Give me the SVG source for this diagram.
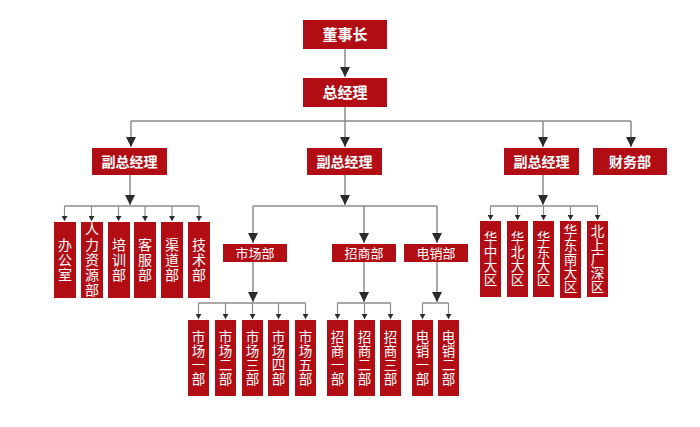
<svg xmlns="http://www.w3.org/2000/svg" width="700" height="427" viewBox="0 0 700 427">
<defs>
<style>
.box{fill:#b20d15;}
.t{fill:#fff;font-family:"Noto Sans CJK SC","Noto Sans",sans-serif;text-anchor:middle;}
.h{font-size:15px;font-weight:bold;}
.m{font-size:14px;font-weight:bold;}
.s{font-size:13px;}
.v{font-size:14px;writing-mode:vertical-rl;letter-spacing:1.2px;}
.w{font-size:13.5px;writing-mode:vertical-rl;letter-spacing:0.5px;}
.ln{fill:none;stroke:#8c8c8c;stroke-width:1.5;}
.ab{fill:none;stroke:#8c8c8c;stroke-width:1.5;marker-end:url(#big);}
.as{fill:none;stroke:#8c8c8c;stroke-width:1.2;marker-end:url(#small);}
</style>
<marker id="big" markerUnits="userSpaceOnUse" markerWidth="11" markerHeight="10" refX="10" refY="5" orient="auto"><path d="M0,0 L10,5 L0,10 z" fill="#2b2b2b"/></marker>
<marker id="small" markerUnits="userSpaceOnUse" markerWidth="6" markerHeight="6" refX="5" refY="3" orient="auto"><path d="M0,0 L5,3 L0,6 z" fill="#2b2b2b"/></marker>
</defs>
<rect width="700" height="427" fill="#fff"/>

<g id="connectors">
<path class="ab" d="M345,49 V77"/>
<path class="ln" d="M345,107 V121 M131,121 H631"/>
<path class="ab" d="M131,121 V147"/>
<path class="ab" d="M345,121 V147"/>
<path class="ab" d="M543,121 V147"/>
<path class="ab" d="M631,121 V147"/>
<path class="ab" d="M130,175 V205"/>
<path class="ln" d="M64.5,206 H199"/>
<path class="as" d="M64.5,206 V221"/>
<path class="as" d="M91.5,206 V221"/>
<path class="as" d="M118.5,206 V221"/>
<path class="as" d="M145,206 V221"/>
<path class="as" d="M172,206 V221"/>
<path class="as" d="M199,206 V221"/>
<path class="ab" d="M345,175 V205"/>
<path class="ln" d="M253,206 H437"/>
<path class="ab" d="M253,206 V243"/>
<path class="ab" d="M364,206 V243"/>
<path class="ab" d="M437,206 V243"/>
<path class="ab" d="M253,262 V302"/>
<path class="ln" d="M198.5,303 H305.5"/>
<path class="as" d="M198.5,303 V319"/>
<path class="as" d="M225.5,303 V319"/>
<path class="as" d="M252.5,303 V319"/>
<path class="as" d="M278.5,303 V319"/>
<path class="as" d="M305.5,303 V319"/>
<path class="ab" d="M364,262 V302"/>
<path class="ln" d="M337.5,303 H390.5"/>
<path class="as" d="M337.5,303 V319"/>
<path class="as" d="M364.5,303 V319"/>
<path class="as" d="M390.5,303 V319"/>
<path class="ab" d="M437,262 V302"/>
<path class="ln" d="M422.5,303 H448.5"/>
<path class="as" d="M422.5,303 V319"/>
<path class="as" d="M448.5,303 V319"/>
<path class="ab" d="M543,175 V205"/>
<path class="ln" d="M490.5,206 H597.5"/>
<path class="as" d="M490.5,206 V220"/>
<path class="as" d="M517.5,206 V220"/>
<path class="as" d="M543.5,206 V220"/>
<path class="as" d="M570.5,206 V220"/>
<path class="as" d="M597.5,206 V220"/>
</g>

<g id="n-dsz"><rect class="box" x="303" y="20" width="84" height="29"/><text class="t h" x="345" y="40">董事长</text></g>
<g id="n-zjl"><rect class="box" x="303" y="78" width="84" height="29"/><text class="t h" x="345" y="98">总经理</text></g>
<g id="n-vp1"><rect class="box" x="92" y="148" width="75" height="27"/><text class="t m" x="129.5" y="166.5">副总经理</text></g>
<g id="n-vp2"><rect class="box" x="307" y="148" width="75" height="27"/><text class="t m" x="344.5" y="166.5">副总经理</text></g>
<g id="n-vp3"><rect class="box" x="504" y="148" width="75" height="27"/><text class="t m" x="541.5" y="166.5">副总经理</text></g>
<g id="n-cwb"><rect class="box" x="593" y="148" width="74" height="27"/><text class="t m" x="630" y="166.5">财务部</text></g>

<g id="n-bgs"><rect class="box" x="54" y="222" width="22" height="76"/><text class="t v" x="65" y="260">办公室</text></g>
<g id="n-rlzy"><rect class="box" x="81" y="222" width="22" height="76"/><text class="t v" x="92" y="260">人力资源部</text></g>
<g id="n-px"><rect class="box" x="108" y="222" width="22" height="76"/><text class="t v" x="119" y="260">培训部</text></g>
<g id="n-kf"><rect class="box" x="134" y="222" width="22" height="76"/><text class="t v" x="145" y="260">客服部</text></g>
<g id="n-qd"><rect class="box" x="161" y="222" width="22" height="76"/><text class="t v" x="172" y="260">渠道部</text></g>
<g id="n-js"><rect class="box" x="188" y="222" width="22" height="76"/><text class="t v" x="199" y="260">技术部</text></g>

<g id="n-scb"><rect class="box" x="223" y="244" width="64" height="18"/><text class="t s" x="255" y="257.5">市场部</text></g>
<g id="n-zsb"><rect class="box" x="332" y="244" width="64" height="18"/><text class="t s" x="364" y="257.5">招商部</text></g>
<g id="n-dxb"><rect class="box" x="404" y="244" width="64" height="18"/><text class="t s" x="436" y="257.5">电销部</text></g>

<g id="n-sc1"><rect class="box" x="188" y="320" width="21" height="76"/><text class="t w" x="198.5" y="358">市场一部</text></g>
<g id="n-sc2"><rect class="box" x="215" y="320" width="21" height="76"/><text class="t w" x="225.5" y="358">市场二部</text></g>
<g id="n-sc3"><rect class="box" x="242" y="320" width="21" height="76"/><text class="t w" x="252.5" y="358">市场三部</text></g>
<g id="n-sc4"><rect class="box" x="268" y="320" width="21" height="76"/><text class="t w" x="278.5" y="358">市场四部</text></g>
<g id="n-sc5"><rect class="box" x="295" y="320" width="21" height="76"/><text class="t w" x="305.5" y="358">市场五部</text></g>

<g id="n-zs1"><rect class="box" x="327" y="320" width="21" height="76"/><text class="t w" x="337.5" y="358">招商一部</text></g>
<g id="n-zs2"><rect class="box" x="354" y="320" width="21" height="76"/><text class="t w" x="364.5" y="358">招商二部</text></g>
<g id="n-zs3"><rect class="box" x="380" y="320" width="21" height="76"/><text class="t w" x="390.5" y="358">招商三部</text></g>

<g id="n-dx1"><rect class="box" x="412" y="320" width="21" height="76"/><text class="t w" x="422.5" y="358">电销一部</text></g>
<g id="n-dx2"><rect class="box" x="438" y="320" width="21" height="76"/><text class="t w" x="448.5" y="358">电销二部</text></g>

<g id="n-hz"><rect class="box" x="480" y="221" width="21" height="76"/><text class="t w" x="490.5" y="259">华中大区</text></g>
<g id="n-hb"><rect class="box" x="507" y="221" width="21" height="76"/><text class="t w" x="517.5" y="259">华北大区</text></g>
<g id="n-hd"><rect class="box" x="533" y="221" width="21" height="76"/><text class="t w" x="543.5" y="259">华东大区</text></g>
<g id="n-hdn"><rect class="box" x="560" y="221" width="21" height="77"/><text class="t w" x="570.5" y="259.5">华东南大区</text></g>
<g id="n-bsgs"><rect class="box" x="587" y="221" width="21" height="76"/><text class="t w" x="597.5" y="259">北上广深区</text></g>
</svg>
